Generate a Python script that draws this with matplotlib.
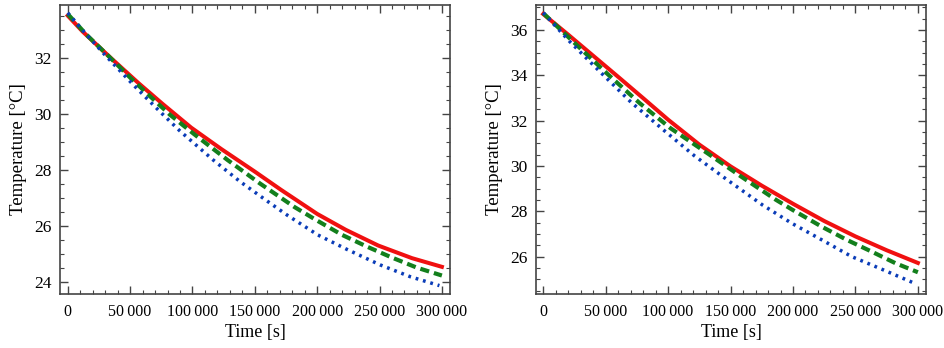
import matplotlib
matplotlib.use("Agg")
import matplotlib.pyplot as plt
from matplotlib.ticker import MultipleLocator, FuncFormatter

# ── data (time in s, temperature in °C) ──────────────────────────────────────

# left panel
t_l_red = [0, 12000, 35000, 57000, 76000, 99000, 123000, 150000, 171000,
           200000, 223000, 249000, 276000, 300000]
l_red = [33.50, 32.93, 31.97, 31.08, 30.35, 29.50, 28.74, 27.93, 27.28,
         26.42, 25.85, 25.29, 24.84, 24.53]

t_l_green = [0, 15000, 34000, 50000, 66000, 82000, 101000, 128000, 154000,
             182000, 200000, 220000, 240000, 260000, 280000, 300000]
l_green = [33.56, 32.82, 32.00, 31.29, 30.62, 29.96, 29.28, 28.35, 27.51,
           26.66, 26.18, 25.67, 25.25, 24.86, 24.50, 24.22]

t_l_blue = [0, 11500, 30000, 53000, 74000, 90000, 116500, 138000, 160500,
            176500, 200500, 224000, 250500, 274500, 298000]
l_blue = [33.60, 33.00, 32.09, 31.01, 30.07, 29.38, 28.35, 27.58, 26.86,
          26.36, 25.67, 25.15, 24.60, 24.18, 23.86]

# right panel
t_r_red = [0, 20000, 40000, 60000, 80000, 100000, 125000, 150000, 175000,
           200000, 225000, 250000, 275000, 300000]
r_red = [36.70, 35.79, 34.86, 33.93, 32.99, 32.04, 30.94, 29.98, 29.13,
         28.33, 27.57, 26.89, 26.28, 25.72]

t_r_green = [0, 26500, 52000, 77000, 102000, 131500, 158500, 186500, 200000,
             223000, 243000, 263000, 282000, 300000]
r_green = [36.74, 35.35, 34.03, 32.78, 31.66, 30.56, 29.53, 28.50, 28.05,
           27.32, 26.74, 26.22, 25.71, 25.31]

t_r_blue = [0, 21000, 45000, 70500, 97500, 121000, 147500, 175500, 199000,
            223000, 247000, 272500, 297000]
r_blue = [36.76, 35.50, 34.18, 32.80, 31.53, 30.45, 29.38, 28.28, 27.47,
          26.74, 26.00, 25.41, 24.83]

RED = "#f01010"
GREEN = "#137f1c"
BLUE = "#0a3cb8"

plt.rcParams["font.family"] = ["Liberation Serif", "DejaVu Serif"]


def thousands(x, pos):
    v = int(round(x))
    if v < 1000:
        return str(v)
    return f"{v // 1000}\u2009{v % 1000:03d}"


def draw_panel(ax, t_red, red, t_green, green, t_blue, blue):
    ax.plot(t_red, red, color=RED, lw=2.9)
    ax.plot(t_green, green, color=GREEN, lw=3.0, linestyle=(0, (2.2, 1.2)))
    ax.plot(t_blue, blue, color=BLUE, lw=2.5, linestyle=(0, (0.8, 1.4)))


def style_axes(ax, xlim, ylim):
    ax.set_xlim(*xlim)
    ax.set_ylim(*ylim)
    ax.xaxis.set_major_locator(MultipleLocator(50000))
    ax.xaxis.set_minor_locator(MultipleLocator(10000))
    ax.yaxis.set_major_locator(MultipleLocator(2))
    ax.yaxis.set_minor_locator(MultipleLocator(0.5))
    ax.xaxis.set_major_formatter(FuncFormatter(thousands))
    ax.tick_params(which="both", direction="in", top=True, right=True,
                   color="#444444")
    ax.tick_params(which="major", length=6, width=1)
    ax.tick_params(which="minor", length=3, width=0.8)
    ax.tick_params(axis="x", which="major", pad=7, labelsize=11.5)
    ax.tick_params(axis="y", which="major", pad=6, labelsize=12.5)
    for s in ax.spines.values():
        s.set_color("#444444")
        s.set_linewidth(1.2)
    ax.set_xlabel("Time [s]", fontsize=13, labelpad=3)
    ax.set_ylabel("Temperature [°C]", fontsize=13.5, labelpad=5)


fig = plt.figure(figsize=(9.44, 3.48), dpi=100)
ax1 = fig.add_axes([60 / 944, 1 - 294 / 348, 390 / 944, 289 / 348])
ax2 = fig.add_axes([536 / 944, 1 - 294 / 348, 390 / 944, 289 / 348])

draw_panel(ax1, t_l_red, l_red, t_l_green, l_green, t_l_blue, l_blue)
style_axes(ax1, (-6200, 306500), (23.56, 33.88))

draw_panel(ax2, t_r_red, r_red, t_r_green, r_green, t_r_blue, r_blue)
style_axes(ax2, (-5800, 306500), (24.35, 37.10))

fig.savefig("out.png", dpi=100)
plt.close(fig)
